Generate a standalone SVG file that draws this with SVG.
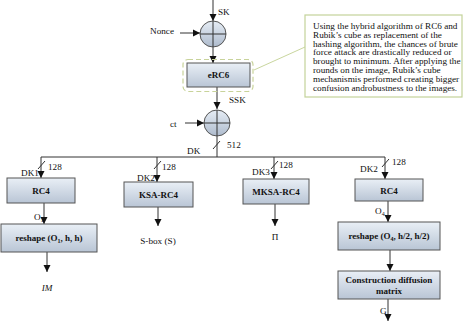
<svg xmlns="http://www.w3.org/2000/svg" width="474" height="321" viewBox="0 0 474 321">
<style>
text{font-family:"Liberation Serif","Times New Roman",serif;fill:#111}
.lbl{font-size:9.2px}
.bx{font-size:9px;font-weight:bold;text-anchor:middle}
.box{fill:url(#g);stroke:#555;stroke-width:1}
.ln{stroke:#333;stroke-width:1;fill:none}
.arr{stroke:#333;stroke-width:1;fill:none;marker-end:url(#ah)}
.xor{fill:url(#gc);stroke:#555;stroke-width:1}
.note{font-size:9.2px}
</style>
<defs>
<linearGradient id="g" x1="0" y1="0" x2="0" y2="1"><stop offset="0" stop-color="#e9eff6"/><stop offset="1" stop-color="#b9c5d5"/></linearGradient>
<linearGradient id="gc" x1="0" y1="0" x2="0" y2="1"><stop offset="0" stop-color="#e6edf5"/><stop offset="1" stop-color="#aebbcd"/></linearGradient>
<marker id="ah" markerWidth="8" markerHeight="8" refX="7" refY="4" orient="auto" markerUnits="userSpaceOnUse"><path d="M0,0.5 L7,4 L0,7.5 Z" fill="#111"/></marker>
</defs>
<g id="connectors">
<line class="arr" x1="213" y1="0" x2="213" y2="21"/>
<line class="arr" x1="180" y1="33" x2="200" y2="33"/>
<line class="arr" x1="213" y1="47" x2="213" y2="63"/>
<line class="arr" x1="217" y1="87" x2="217" y2="109"/>
<line class="arr" x1="185" y1="123" x2="204" y2="123"/>
<line class="ln" x1="217" y1="136" x2="217" y2="157"/>
<line class="ln" x1="213" y1="149" x2="220" y2="141"/>
<line class="ln" x1="41" y1="157" x2="385" y2="157"/>
<line class="arr" x1="41" y1="157" x2="41" y2="178"/>
<line class="ln" x1="38" y1="169" x2="45" y2="161"/>
<line class="arr" x1="157" y1="157" x2="157" y2="182"/>
<line class="ln" x1="154" y1="169" x2="161" y2="161"/>
<line class="arr" x1="274" y1="157" x2="274" y2="179"/>
<line class="ln" x1="271" y1="169" x2="278" y2="161"/>
<line class="arr" x1="385" y1="157" x2="385" y2="179"/>
<line class="ln" x1="382" y1="167" x2="389" y2="159"/>
<line class="arr" x1="44" y1="203" x2="44" y2="224"/>
<line class="arr" x1="47" y1="252" x2="47" y2="272"/>
<line class="arr" x1="158" y1="207" x2="158" y2="226"/>
<line class="arr" x1="275" y1="204" x2="275" y2="226"/>
<line class="arr" x1="388" y1="201" x2="388" y2="222"/>
<line class="arr" x1="390" y1="250" x2="390" y2="271"/>
<line class="arr" x1="388" y1="299" x2="388" y2="321"/>
<line x1="254" y1="70" x2="305" y2="47" stroke="#c9d69e" stroke-width="1"/>
</g>
<g id="xor1"><circle class="xor" cx="213" cy="34" r="13"/><line class="ln" x1="200" y1="34" x2="226" y2="34"/><line class="ln" x1="213" y1="21" x2="213" y2="47"/></g>
<g id="xor2"><circle class="xor" cx="217" cy="123" r="13"/><line class="ln" x1="204" y1="123" x2="230" y2="123"/><line class="ln" x1="217" y1="110" x2="217" y2="136"/></g>
<g id="erc6">
<rect x="183" y="59.5" width="70" height="32" rx="5" fill="none" stroke="#c8d39a" stroke-width="1.2" stroke-dasharray="5,3"/>
<rect class="box" x="187" y="63" width="63" height="24"/>
<text class="bx" x="218.5" y="78">eRC6</text>
</g>
<g id="note">
<rect x="305" y="15" width="157" height="82" fill="#fff" stroke="#c3d39a" stroke-width="1.2"/>
<text class="note" x="313" y="29">Using the hybrid algorithm of RC6 and</text>
<text class="note" x="313" y="37.8">Rubik’s cube as replacement of the</text>
<text class="note" x="313" y="46.6">hashing algorithm, the chances of brute</text>
<text class="note" x="313" y="55.4">force attack are drastically reduced or</text>
<text class="note" x="313" y="64.2">brought to minimum. After applying the</text>
<text class="note" x="313" y="73">rounds on the image, Rubik’s cube</text>
<text class="note" x="313" y="81.8">mechanismis performed creating bigger</text>
<text class="note" x="313" y="90.6">confusion androbustness to the images.</text>
</g>
<g id="labels">
<text class="lbl" x="218" y="15">SK</text>
<text class="lbl" x="150" y="34">Nonce</text>
<text class="lbl" x="229" y="103">SSK</text>
<text class="lbl" x="170" y="127">ct</text>
<text class="lbl" x="227" y="148">512</text>
<text class="lbl" x="187" y="154">DK</text>
<text class="lbl" x="21" y="176">DK1</text>
<text class="lbl" x="48" y="170">128</text>
<text class="lbl" x="137" y="181">DK2</text>
<text class="lbl" x="162" y="170">128</text>
<text class="lbl" x="252" y="175">DK3</text>
<text class="lbl" x="279" y="168">128</text>
<text class="lbl" x="360" y="172">DK2</text>
<text class="lbl" x="392" y="165">128</text>
<text class="lbl" x="34" y="220">O<tspan font-size="6" dy="2">1</tspan></text>
<text class="lbl" x="375" y="214">O<tspan font-size="6" dy="2">4</tspan></text>
<text class="lbl" x="380" y="314">G</text>
<text class="lbl" x="47" y="291" text-anchor="middle" font-style="italic">IM</text>
<text class="lbl" x="158" y="244" text-anchor="middle">S-box (S)</text>
<text class="lbl" x="275" y="240" text-anchor="middle">Π</text>
</g>
<g id="rc4a"><rect class="box" x="7" y="178" width="68" height="25"/><text class="bx" x="41" y="194">RC4</text></g>
<g id="ksa"><rect class="box" x="124" y="182" width="69" height="25"/><text class="bx" x="158.5" y="198">KSA-RC4</text></g>
<g id="mksa"><rect class="box" x="243" y="179" width="66" height="25"/><text class="bx" x="276" y="195">MKSA-RC4</text></g>
<g id="rc4b"><rect class="box" x="355" y="179" width="68" height="22"/><text class="bx" x="389" y="193.5">RC4</text></g>
<g id="reshape1"><rect class="box" x="1" y="224" width="96" height="28"/><text class="bx" x="49" y="241">reshape (O<tspan font-size="6" dy="2">1</tspan><tspan dy="-2">, h, h)</tspan></text></g>
<g id="reshape2"><rect class="box" x="338" y="222" width="102" height="28"/><text class="bx" x="389" y="239">reshape (O<tspan font-size="6" dy="2">4</tspan><tspan dy="-2">, h/2, h/2)</tspan></text></g>
<g id="cdm"><rect class="box" x="338" y="271" width="102" height="28"/><text class="bx" x="389" y="283">Construction diffusion</text><text class="bx" x="389" y="294">matrix</text></g>
</svg>
